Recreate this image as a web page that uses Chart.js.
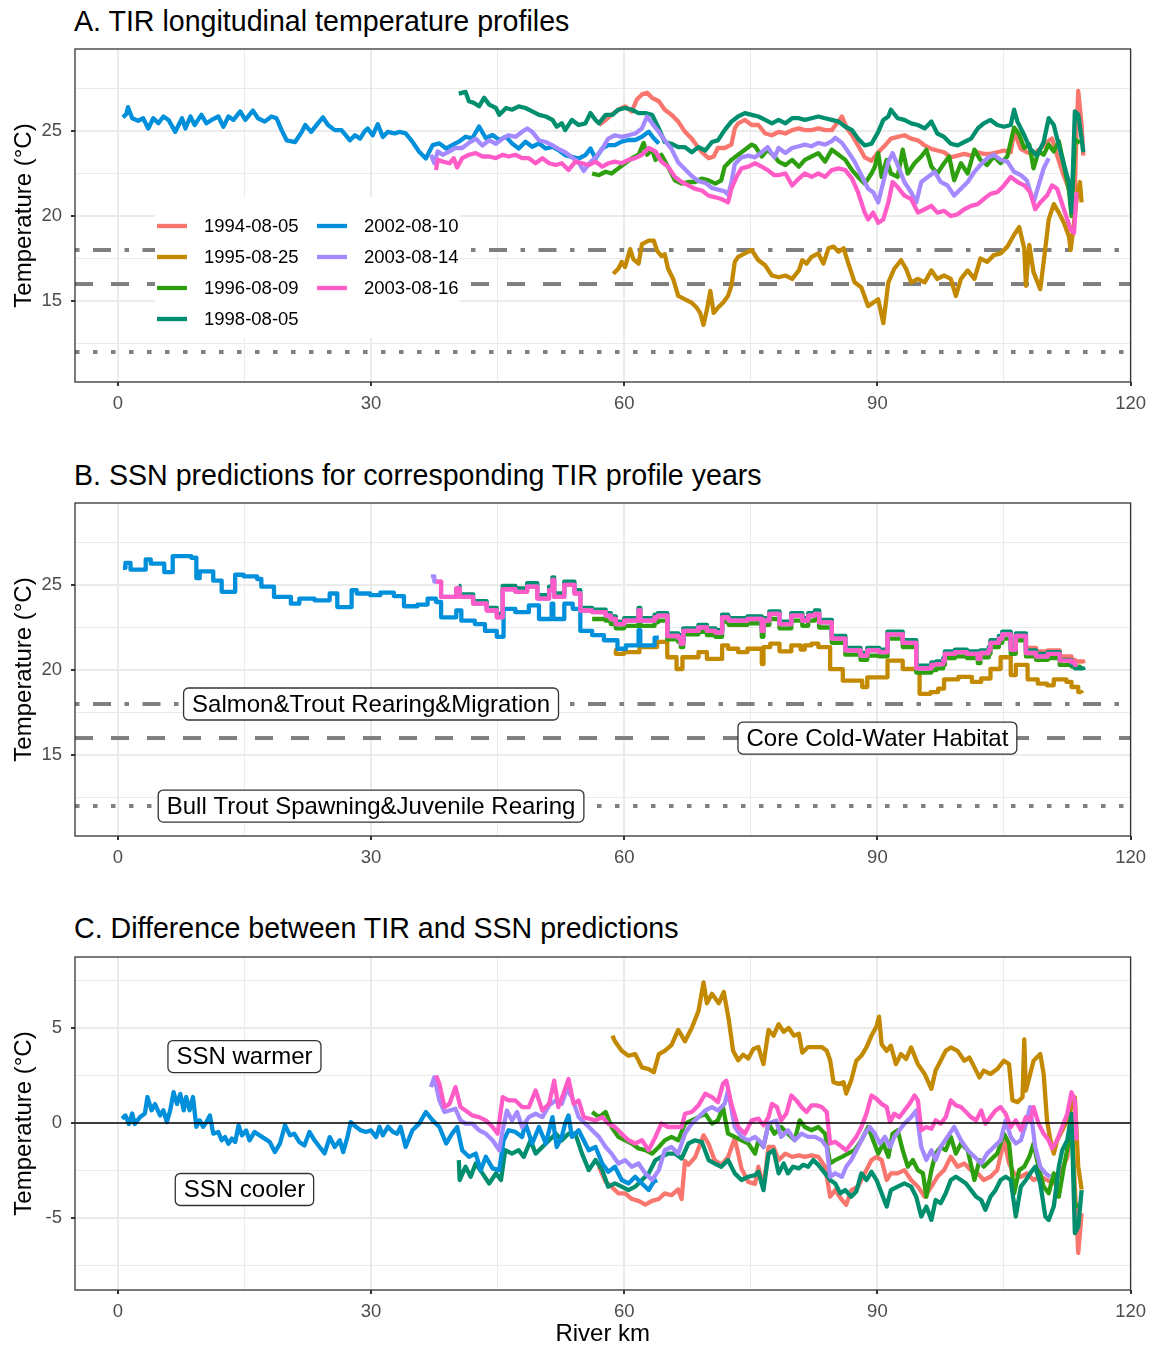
<!DOCTYPE html>
<html>
<head>
<meta charset="utf-8">
<script src="https://cdn.jsdelivr.net/npm/chart.js@4.4.1/dist/chart.umd.min.js"></script>
<style>
  body { margin: 0; background: #fff; font-family: "Liberation Sans", Arial, sans-serif; }
  .title { position: absolute; left: 74px; font-size: 28.6px; line-height: 1; color: #000; white-space: nowrap; }
  .panel { position: absolute; left: 0; width: 1153px; }
</style>
</head>
<body>
<div class="title" style="top:7px">A. TIR longitudinal temperature profiles</div>
<div class="panel" style="top:0;height:420px"><canvas id="chartA"></canvas></div>
<div class="title" style="top:461px">B. SSN predictions for corresponding TIR profile years</div>
<div class="panel" style="top:454px;height:420px"><canvas id="chartB"></canvas></div>
<div class="title" style="top:914px">C. Difference between TIR and SSN predictions</div>
<div class="panel" style="top:908px;height:437px"><canvas id="chartC"></canvas></div>

<script>
// ---- data: [river km, value] ----
const years = ["1994-08-05", "1995-08-25", "1996-08-09", "1998-08-05", "2002-08-10", "2003-08-14", "2003-08-16"];
const xTicks = [0, 30, 60, 90, 120];
const refLevels = [18, 16, 12];

// A. TIR temperatures (°C)
const tir1994 = [[57.0,25.35],[57.8,25.65],[58.5,25.95],[59.3,26.25],[60.1,26.45],[60.9,26.15],[61.5,26.85],[62.1,27.15],[62.7,27.25],[63.3,26.95],[64.1,26.75],[64.8,26.25],[65.6,25.95],[66.4,25.55],[67.2,24.95],[68.0,24.55],[68.6,24.15],[69.2,23.75],[70.0,23.4],[70.6,23.5],[71.1,24.0],[71.9,24.0],[72.7,24.2],[73.1,25.15],[73.5,25.45],[74.3,25.65],[75.1,25.35],[75.9,25.35],[76.7,24.85],[77.5,24.75],[78.3,24.95],[79.1,24.85],[79.9,25.05],[80.7,25.15],[81.4,25.05],[82.2,25.05],[83.0,25.15],[83.8,25.05],[84.6,25.05],[85.2,25.45],[85.8,25.85],[86.4,25.15],[87.0,24.75],[87.7,24.15],[88.5,23.45],[89.3,23.25],[90.1,23.75],[90.9,24.15],[91.6,24.55],[92.4,24.65],[93.2,24.75],[94.0,24.55],[94.8,24.45],[95.6,24.15],[96.4,23.95],[97.1,23.85],[97.9,23.75],[98.7,23.45],[99.5,23.55],[100.3,23.65],[101.1,23.55],[101.9,23.75],[102.6,23.65],[103.4,23.65],[104.2,23.75],[105.0,23.85],[105.8,23.75],[106.2,24.95],[107.0,23.95],[107.7,23.75],[108.5,23.65],[109.3,23.95],[110.1,24.35],[110.7,24.55],[111.3,23.55],[112.1,22.35],[112.9,21.35],[113.4,21.55],[113.6,25.15],[113.8,27.35],[114.2,25.35],[114.4,23.55]];
const tir1995 = [[58.7,16.6],[59.3,16.9],[59.7,17.3],[60.1,17.0],[60.7,18.05],[61.1,17.45],[61.7,17.2],[62.1,18.35],[62.9,18.55],[63.5,18.55],[63.9,17.95],[64.4,17.65],[64.8,17.75],[65.2,16.9],[65.8,16.3],[66.4,15.3],[67.2,15.1],[68.0,14.9],[68.6,14.6],[69.0,14.3],[69.4,13.6],[69.8,14.5],[70.2,15.6],[70.6,14.3],[71.1,14.6],[71.7,14.9],[72.3,15.3],[72.7,15.9],[73.1,17.3],[73.5,17.6],[74.3,17.8],[75.1,18.0],[75.9,17.4],[76.7,17.1],[77.5,16.5],[78.3,16.4],[79.1,16.5],[79.9,16.3],[80.7,16.8],[81.1,17.4],[81.6,17.2],[82.2,17.6],[83.0,17.8],[83.6,17.2],[84.2,18.1],[84.8,18.2],[85.4,17.9],[86.0,18.1],[86.5,17.3],[87.3,16.1],[88.1,15.8],[88.9,14.7],[89.5,14.9],[90.1,15.1],[90.7,13.7],[91.3,16.1],[92.0,16.9],[92.8,17.4],[93.4,16.9],[94.0,16.1],[94.8,16.3],[95.6,16.1],[96.4,16.8],[97.1,16.3],[97.9,16.5],[98.7,16.3],[99.3,15.3],[99.9,16.3],[100.7,16.8],[101.5,16.3],[102.2,17.5],[103.0,17.3],[103.8,17.7],[104.6,17.8],[105.4,18.2],[106.2,18.9],[106.8,19.35],[107.4,18.1],[107.6,15.9],[108.0,18.3],[108.5,16.7],[109.3,15.7],[109.9,18.1],[110.3,19.8],[110.9,20.7],[111.5,20.2],[112.1,19.6],[112.7,18.8],[112.9,18.0],[113.3,19.6],[113.6,21.0],[114.0,22.0],[114.2,20.8]];
const tir1996 = [[56.2,22.5],[57.0,22.4],[57.8,22.6],[58.5,22.5],[59.3,22.8],[60.1,23.1],[60.9,23.4],[61.7,23.6],[62.3,24.3],[62.7,23.6],[63.3,23.9],[63.7,23.3],[64.4,23.6],[65.2,22.9],[66.0,22.1],[66.8,21.9],[67.6,22.0],[68.4,22.0],[69.2,22.2],[70.0,22.1],[70.8,21.9],[71.5,22.1],[71.9,22.9],[72.7,23.3],[73.5,23.6],[74.3,23.9],[75.1,24.2],[75.5,24.1],[76.3,23.5],[77.0,23.9],[77.8,23.5],[78.3,23.2],[79.1,23.0],[79.9,23.3],[80.7,22.9],[81.4,23.3],[82.2,23.5],[83.0,23.7],[83.8,23.2],[84.6,23.9],[85.4,23.6],[86.2,23.3],[87.0,22.7],[87.7,22.3],[88.5,21.9],[89.3,22.5],[89.7,22.9],[90.1,23.7],[90.5,22.3],[91.1,23.3],[91.6,22.5],[92.4,22.3],[93.0,23.9],[93.6,22.5],[94.4,23.1],[95.2,23.5],[95.8,23.9],[96.4,22.9],[97.1,22.5],[97.9,23.1],[98.5,23.5],[99.1,22.1],[99.9,23.1],[100.7,22.5],[101.5,23.9],[102.2,23.3],[103.0,23.0],[103.8,23.5],[104.6,23.1],[105.4,23.5],[106.2,25.2],[106.8,24.8],[107.4,24.0],[108.0,24.2],[108.5,22.8],[109.1,23.8],[109.7,23.6],[110.3,24.2],[110.9,23.8],[111.5,24.4],[112.1,23.0],[112.7,21.5],[113.0,20.0],[113.4,24.5],[114.0,24.3]];
const tir1998 = [[40.4,27.2],[41.2,27.3],[41.6,26.75],[42.2,26.65],[42.8,26.45],[43.4,26.95],[44.0,26.55],[44.8,26.35],[45.2,25.95],[46.0,26.35],[46.7,26.25],[47.5,26.45],[48.3,26.35],[49.1,26.15],[49.9,25.95],[50.7,25.85],[51.5,25.65],[52.0,25.25],[52.6,25.45],[53.0,25.05],[53.8,25.65],[54.6,25.35],[55.4,25.45],[56.0,26.05],[56.6,25.65],[57.0,25.45],[57.8,25.95],[58.6,25.95],[59.3,26.25],[60.1,26.35],[60.9,26.25],[61.7,26.05],[62.5,26.05],[63.3,25.95],[64.1,25.15],[64.8,24.35],[65.6,24.25],[66.4,24.05],[67.2,24.05],[68.0,23.75],[68.8,24.05],[69.6,23.85],[70.4,24.35],[71.1,24.45],[71.9,25.05],[72.7,25.55],[73.5,25.85],[74.3,26.05],[75.1,25.95],[75.9,25.85],[76.7,25.65],[77.5,25.45],[78.3,25.65],[79.1,25.45],[79.9,25.75],[80.7,25.75],[81.4,25.65],[82.2,25.75],[83.0,25.85],[83.8,25.75],[84.6,25.65],[85.4,25.55],[86.2,25.25],[87.0,25.05],[87.7,24.55],[88.5,24.15],[89.3,24.25],[90.1,24.95],[90.7,25.65],[91.3,25.85],[91.6,26.25],[92.4,25.75],[93.2,25.65],[94.0,25.45],[94.8,25.35],[95.6,25.15],[96.4,25.55],[97.1,24.85],[97.9,24.65],[98.7,24.25],[99.5,24.15],[100.3,24.35],[101.1,24.55],[101.9,25.15],[102.6,25.45],[103.4,25.65],[104.2,25.35],[105.0,25.25],[105.8,25.35],[106.2,26.25],[106.6,25.55],[107.4,24.75],[108.1,23.95],[108.9,23.55],[109.7,24.35],[110.3,25.75],[110.9,25.35],[111.5,24.15],[112.1,23.05],[112.7,21.95],[113.0,20.2],[113.4,26.15],[113.8,25.95],[114.2,24.55],[114.4,23.75]];
const tir2002 = [[0.6,25.8],[1.0,26.0],[1.2,26.4],[1.7,25.75],[2.4,25.6],[3.0,25.75],[3.6,25.15],[4.2,25.75],[4.8,25.45],[5.4,25.85],[6.0,25.65],[6.8,24.95],[7.6,25.75],[8.0,25.15],[8.6,25.85],[9.1,25.35],[9.9,25.95],[10.5,25.45],[11.1,25.65],[11.9,25.85],[12.5,25.25],[13.1,25.85],[13.7,25.65],[14.5,26.15],[15.1,25.65],[16.0,26.2],[16.6,25.75],[17.4,25.55],[18.2,25.85],[18.8,25.75],[19.4,25.05],[20.0,24.45],[21.0,24.35],[21.8,24.95],[22.2,25.35],[22.9,24.95],[23.7,25.45],[24.3,25.8],[24.9,25.35],[25.7,25.05],[26.5,25.05],[27.5,24.45],[28.1,24.75],[28.7,24.55],[29.2,24.95],[29.6,25.15],[30.2,24.75],[30.8,25.4],[31.4,24.65],[32.0,24.95],[32.8,24.85],[33.4,24.95],[34.1,24.86],[34.9,24.37],[35.7,23.78],[36.5,23.38],[37.3,24.17],[38.1,24.27],[38.9,23.97],[39.6,24.17],[40.4,24.37],[41.2,24.66],[42.0,24.57],[42.8,25.26],[43.6,24.57],[44.4,24.76],[45.2,24.47],[46.0,24.66],[46.7,24.27],[47.5,23.97],[48.3,24.37],[49.1,24.07],[49.9,24.27],[50.7,23.97],[51.5,24.07],[52.2,23.88],[53.0,23.58],[53.8,23.48],[54.6,23.38],[55.4,23.58],[56.0,23.97],[56.6,23.38],[57.4,23.97],[58.1,24.17],[58.9,24.17],[59.7,24.37],[60.5,24.47],[61.3,24.47],[62.1,24.66],[62.9,24.96],[63.5,24.57],[64.1,24.27]];
const tir2003a = [[37.1,23.6],[37.5,23.1],[37.9,23.8],[38.5,23.6],[39.3,23.8],[40.0,24.0],[40.8,24.0],[41.6,24.3],[42.4,24.55],[43.2,24.15],[44.0,24.45],[44.8,24.25],[45.6,24.55],[46.3,24.75],[47.1,24.65],[47.9,24.95],[48.5,25.15],[49.1,24.95],[49.9,24.45],[50.7,24.35],[51.5,24.15],[52.2,23.95],[53.0,23.75],[53.8,23.45],[54.6,23.15],[55.2,22.65],[55.8,23.05],[56.6,23.45],[57.4,23.95],[58.1,24.55],[58.9,24.75],[59.7,24.65],[60.5,24.75],[61.3,24.85],[62.1,25.15],[62.7,25.85],[63.3,25.45],[64.1,24.95],[64.8,24.45],[65.6,23.95],[66.4,23.15],[67.2,22.75],[68.0,22.35],[68.8,22.05],[69.6,21.95],[70.4,21.65],[71.1,21.55],[71.9,21.45],[72.3,21.25],[72.7,21.95],[73.1,23.05],[73.9,23.45],[74.7,23.55],[75.5,23.45],[76.3,23.75],[77.0,24.05],[77.8,23.45],[78.3,24.0],[79.1,23.7],[79.9,24.0],[80.7,24.1],[81.4,24.2],[82.2,24.1],[83.0,24.3],[83.8,24.2],[84.6,24.4],[85.0,24.6],[85.8,24.3],[86.5,23.8],[87.3,23.2],[88.1,22.4],[88.9,21.6],[89.5,21.4],[90.1,20.8],[90.7,22.0],[91.3,23.2],[91.8,23.7],[92.4,23.0],[93.2,22.0],[94.0,21.4],[94.6,20.8],[95.2,22.0],[96.0,22.3],[96.8,22.6],[97.5,22.0],[98.3,21.8],[99.1,21.2],[99.9,21.6],[100.7,22.0],[101.5,22.6],[102.2,23.0],[103.0,23.4],[103.8,23.6],[104.6,23.3],[105.4,23.2],[106.2,22.6],[107.0,22.4],[107.7,22.1],[108.5,20.8],[109.1,21.8],[109.7,22.8],[110.3,23.4]];
const tir2003b = [[37.7,22.7],[37.9,23.3],[38.5,23.2],[39.3,23.1],[39.8,23.4],[40.2,22.85],[40.8,23.4],[41.6,23.6],[42.4,23.7],[43.2,23.5],[44.0,23.5],[44.8,23.4],[45.6,23.6],[46.3,23.5],[47.1,23.6],[47.9,23.4],[48.7,23.4],[49.5,23.1],[50.3,23.4],[51.1,23.1],[51.9,23.0],[52.6,23.1],[53.4,22.7],[54.2,23.2],[55.0,23.1],[55.8,23.0],[56.6,23.2],[57.4,22.9],[58.1,23.1],[58.9,23.2],[59.7,23.1],[60.5,23.3],[61.3,23.4],[62.1,23.6],[62.9,24.0],[63.7,23.8],[64.4,23.2],[65.2,22.9],[66.0,22.3],[66.8,22.0],[67.6,21.8],[68.4,21.6],[69.2,21.5],[70.0,21.2],[70.8,21.1],[71.5,21.0],[72.3,20.8],[72.7,21.6],[73.3,22.3],[73.9,22.8],[74.7,22.9],[75.5,23.1],[76.3,22.9],[77.0,22.7],[77.8,22.4],[78.3,22.4],[79.1,22.5],[79.9,21.8],[80.7,22.2],[81.4,22.5],[82.2,22.3],[83.0,22.5],[83.8,22.3],[84.6,22.7],[85.4,22.8],[86.2,22.7],[87.0,22.2],[87.7,21.4],[88.5,20.2],[88.9,19.8],[89.5,20.2],[90.1,19.6],[90.7,19.8],[91.3,20.8],[91.8,22.0],[92.4,21.7],[93.2,21.2],[94.0,21.0],[94.8,20.2],[95.6,20.4],[96.4,20.6],[97.1,20.2],[97.9,20.3],[98.7,20.0],[99.5,20.1],[100.3,20.4],[101.1,20.6],[101.9,20.7],[102.6,21.0],[103.4,21.3],[104.2,21.4],[105.0,21.8],[105.8,22.3],[106.6,22.0],[107.4,21.8],[108.1,21.4],[108.7,20.4],[109.3,20.8],[110.1,21.2],[110.7,21.8],[111.3,21.6],[112.1,20.4],[112.9,19.2],[113.3,19.0],[113.6,21.4]];

// B. SSN predictions (°C), each value holds until the next km
const ssn1994 = [[57.0,23.4],[57.8,23.3],[58.4,23.1],[59.0,22.8],[60.0,23.0],[61.7,23.6],[61.9,23.0],[63.6,23.2],[64.0,23.3],[65.1,22.1],[66.4,22.0],[66.7,21.65],[67.0,22.4],[68.8,22.6],[69.8,22.4],[70.8,22.3],[71.6,23.2],[72.3,23.1],[72.4,23.0],[74.6,23.1],[76.3,22.4],[76.5,23.0],[77.2,23.4],[78.4,22.8],[79.8,23.3],[81.1,23.0],[81.8,23.3],[82.6,23.4],[83.1,22.9],[84.6,21.95],[86.2,21.25],[88.0,20.95],[88.8,21.25],[90.2,21.15],[91.2,22.2],[93.0,21.7],[94.6,20.2],[96.4,20.4],[97.0,20.45],[97.8,20.65],[98.0,21.05],[99.2,21.15],[100.6,21.05],[101.9,20.75],[102.2,21.1],[103.2,21.3],[103.4,21.7],[104.4,21.95],[104.8,22.2],[105.8,21.3],[106.4,22.1],[107.6,21.3],[108.8,21.1],[110.2,21.15],[111.6,20.8],[113.0,20.6],[113.4,20.5],[114.4,20.4]];
const ssn1995 = [[58.8,21.15],[59.0,20.95],[60.0,21.05],[61.8,21.35],[63.9,21.65],[65.1,20.75],[66.2,20.06],[66.9,20.75],[68.8,21.05],[69.8,20.65],[71.6,21.45],[72.3,21.25],[73.5,21.05],[74.6,21.25],[76.3,20.35],[76.5,21.35],[77.3,21.55],[78.4,21.1],[79.8,21.45],[80.9,21.2],[81.4,21.45],[82.2,21.55],[83.0,21.35],[84.4,20.05],[85.9,19.37],[88.2,19.0],[88.8,19.57],[91.2,20.55],[93.0,20.06],[95.0,18.6],[96.3,18.7],[97.2,18.9],[97.9,19.45],[99.6,19.6],[101.2,19.3],[102.3,19.5],[103.4,20.06],[104.6,20.75],[105.8,19.7],[106.4,20.3],[107.8,19.45],[109.0,19.2],[110.1,19.1],[110.9,19.45],[112.4,19.3],[113.0,19.0],[113.8,18.7],[114.2,18.65]];
const ssn1996 = [[56.2,23.0],[57.8,22.9],[58.4,22.7],[59.0,22.45],[60.0,22.6],[61.7,23.2],[61.9,22.6],[63.6,22.8],[64.0,22.9],[65.1,21.8],[66.4,21.65],[66.7,21.35],[67.0,22.1],[68.8,22.25],[69.8,22.05],[70.8,21.95],[71.6,22.85],[72.3,22.75],[72.4,22.65],[74.6,22.75],[76.3,21.95],[76.5,22.65],[77.2,23.0],[78.4,22.45],[79.8,22.9],[81.1,22.6],[81.8,22.9],[82.6,23.0],[83.1,22.5],[84.6,21.6],[86.2,20.9],[88.0,20.6],[88.8,20.85],[90.2,20.8],[91.2,21.85],[93.0,21.35],[94.6,19.85],[96.4,20.0],[97.0,20.1],[97.8,20.3],[98.0,20.7],[99.2,20.8],[100.6,20.7],[101.9,20.4],[102.2,20.75],[103.2,20.95],[103.4,21.35],[104.4,21.6],[104.8,21.85],[105.8,20.95],[106.4,21.75],[107.6,20.8],[108.8,20.6],[110.2,20.7],[111.6,20.3],[113.0,20.2],[114.0,20.0]];
const ssn1998 = [[40.4,24.95],[40.5,24.45],[42.1,24.05],[43.7,23.65],[44.9,23.3],[45.6,24.95],[47.1,24.8],[48.5,25.1],[49.7,24.4],[51.1,24.9],[51.5,25.45],[51.7,24.5],[52.9,25.2],[54.1,24.7],[54.8,23.65],[56.2,23.55],[57.8,23.35],[58.4,23.15],[59.0,22.85],[60.0,23.05],[61.7,23.65],[61.9,23.05],[63.6,23.25],[64.0,23.35],[65.1,22.15],[66.4,22.05],[66.7,21.7],[67.0,22.45],[68.8,22.65],[69.8,22.45],[70.8,22.35],[71.6,23.25],[72.3,23.15],[72.4,23.05],[74.6,23.15],[76.3,22.45],[76.5,23.05],[77.2,23.45],[78.4,22.85],[79.8,23.35],[81.1,23.05],[81.8,23.35],[82.6,23.5],[83.1,22.95],[84.6,22.0],[86.2,21.3],[88.0,21.0],[88.8,21.3],[90.2,21.2],[91.2,22.25],[93.0,21.75],[94.6,20.25],[96.4,20.45],[97.0,20.5],[97.8,20.7],[98.0,21.1],[99.2,21.2],[100.6,21.1],[101.9,20.8],[102.2,21.15],[103.2,21.35],[103.4,21.75],[104.4,22.0],[104.8,22.25],[105.8,21.35],[106.4,22.15],[107.6,21.15],[108.8,20.95],[110.2,21.05],[111.6,20.6],[113.0,20.3],[113.4,20.1],[114.4,20.0]];
const ssn2002 = [[0.6,26.0],[0.9,26.3],[1.5,25.9],[3.3,26.5],[3.9,26.25],[5.5,25.75],[6.5,26.7],[8.7,26.6],[9.3,25.4],[9.7,25.8],[11.3,25.25],[12.3,24.6],[13.9,25.6],[14.9,25.5],[16.5,25.35],[17.0,24.9],[18.5,24.3],[20.5,23.9],[21.5,24.2],[23.3,24.1],[25.1,24.5],[26.0,23.7],[27.7,24.7],[28.3,24.5],[29.9,24.4],[31.1,24.55],[32.7,24.35],[33.9,23.75],[35.5,23.85],[36.7,24.2],[37.7,24.0],[38.3,23.1],[40.1,23.5],[40.7,22.9],[42.3,22.7],[43.5,22.3],[44.9,21.95],[45.7,23.6],[47.1,23.4],[48.7,23.8],[49.9,23.0],[51.4,23.9],[51.6,23.0],[52.9,23.9],[53.9,23.6],[54.8,22.3],[56.2,22.05],[57.6,21.75],[59.2,21.25],[60.2,21.45],[61.7,22.35],[61.9,21.45],[63.6,21.9],[64.1,21.9]];
const ssn2003a = [[37.1,25.5],[37.5,25.2],[38.3,24.3],[40.1,24.8],[40.5,24.3],[42.1,23.9],[43.7,23.5],[44.9,23.1],[45.6,24.75],[47.1,24.6],[48.5,24.9],[49.7,24.2],[51.1,24.7],[51.5,25.3],[51.7,24.3],[52.9,25.0],[54.1,24.5],[54.8,23.5],[56.2,23.4],[57.8,23.2],[58.4,23.0],[59.0,22.7],[60.0,22.9],[61.7,23.5],[61.9,22.9],[63.6,23.1],[64.0,23.2],[65.1,22.0],[66.4,21.9],[66.7,21.55],[67.0,22.3],[68.8,22.5],[69.8,22.3],[70.8,22.2],[71.6,23.1],[72.3,23.0],[72.4,22.9],[74.6,23.0],[76.3,22.3],[76.5,22.9],[77.2,23.3],[78.4,22.7],[79.8,23.2],[81.1,22.9],[81.8,23.2],[82.6,23.3],[83.1,22.8],[84.6,21.85],[86.2,21.15],[88.0,20.85],[88.8,21.15],[90.2,21.05],[91.2,22.1],[93.0,21.6],[94.6,20.1],[96.4,20.3],[97.0,20.35],[97.8,20.55],[98.0,20.95],[99.2,21.05],[100.6,20.95],[101.9,20.65],[102.2,21.0],[103.2,21.2],[103.4,21.6],[104.4,21.85],[104.8,22.1],[105.8,21.2],[106.4,22.0],[107.6,21.0],[108.8,20.8],[110.2,20.95],[110.4,20.95]];
const ssn2003b = [[37.7,25.2],[38.3,24.3],[40.1,24.8],[40.5,24.3],[42.1,23.9],[43.7,23.5],[44.9,23.1],[45.6,24.75],[47.1,24.6],[48.5,24.9],[49.7,24.2],[51.1,24.7],[51.5,25.3],[51.7,24.3],[52.9,25.0],[54.1,24.5],[54.8,23.5],[56.2,23.4],[57.8,23.2],[58.4,23.0],[59.0,22.7],[60.0,22.9],[61.7,23.5],[61.9,22.9],[63.6,23.1],[64.0,23.2],[65.1,22.0],[66.4,21.9],[66.7,21.55],[67.0,22.3],[68.8,22.5],[69.8,22.3],[70.8,22.2],[71.6,23.1],[72.3,23.0],[72.4,22.9],[74.6,23.0],[76.3,22.3],[76.5,22.9],[77.2,23.3],[78.4,22.7],[79.8,23.2],[81.1,22.9],[81.8,23.2],[82.6,23.3],[83.1,22.8],[84.6,21.85],[86.2,21.15],[88.0,20.85],[88.8,21.15],[90.2,21.05],[91.2,22.1],[93.0,21.6],[94.6,20.1],[96.4,20.3],[97.0,20.35],[97.8,20.55],[98.0,20.95],[99.2,21.05],[100.6,20.95],[101.9,20.65],[102.2,21.0],[103.2,21.2],[103.4,21.6],[104.4,21.85],[104.8,22.1],[105.8,21.2],[106.4,22.0],[107.6,21.0],[108.8,20.8],[110.2,20.95],[111.6,20.55],[113.0,20.45],[113.4,20.3],[113.7,20.3]];

// C. SSN minus TIR (°C)
const diff1994 = [[57.0,-2.3],[57.8,-3.1],[58.5,-3.35],[59.3,-3.7],[60.1,-3.7],[60.9,-4.0],[61.7,-4.1],[62.5,-4.3],[63.3,-4.1],[64.1,-4.0],[64.8,-3.7],[65.6,-3.8],[66.4,-3.5],[66.8,-4.0],[67.2,-2.0],[67.6,-2.2],[68.4,-1.8],[69.4,-0.65],[70.0,-1.1],[70.7,-1.95],[71.5,-2.2],[72.3,-1.8],[73.1,-0.8],[73.9,-2.4],[74.7,-3.1],[75.5,-3.2],[75.9,-2.3],[76.5,-3.35],[77.1,-1.26],[77.7,-1.26],[78.3,-1.95],[79.1,-1.61],[79.9,-1.78],[80.7,-1.7],[81.4,-1.78],[82.2,-1.7],[83.0,-1.78],[83.8,-2.3],[84.4,-3.88],[85.0,-3.53],[85.8,-4.05],[86.3,-4.31],[86.9,-3.53],[87.7,-3.35],[88.5,-2.65],[89.3,-1.95],[89.9,-1.78],[90.5,-1.95],[91.1,-3.0],[91.6,-2.65],[92.4,-2.65],[93.2,-2.48],[94.0,-3.0],[94.8,-3.35],[95.6,-3.88],[96.4,-3.35],[97.1,-2.83],[97.9,-2.48],[98.7,-1.78],[99.5,-2.3],[100.3,-2.13],[101.1,-2.48],[101.9,-2.65],[102.6,-3.0],[103.4,-2.83],[104.2,-2.48],[105.0,-0.91],[105.6,-2.13],[106.2,-2.65],[107.0,-2.83],[107.7,-2.65],[108.5,-3.0],[109.3,-2.83],[110.1,-3.0],[110.9,-3.18],[111.7,-2.65],[112.5,-1.78],[113.0,0.31],[113.4,-3.35],[113.8,-6.84],[114.2,-4.75]];
const diff1995 = [[58.6,4.6],[58.9,4.3],[59.7,3.8],[60.5,3.54],[61.3,3.63],[62.1,2.93],[62.9,2.84],[63.5,2.67],[64.1,3.63],[64.8,3.8],[65.6,4.1],[66.4,4.9],[67.2,4.3],[68.0,5.0],[68.8,5.9],[69.4,7.4],[69.8,6.3],[70.4,6.8],[71.2,6.3],[71.8,6.9],[72.4,5.4],[72.9,3.8],[73.5,3.3],[74.1,3.6],[74.7,3.4],[75.3,3.9],[75.9,4.0],[76.5,3.1],[77.1,4.9],[77.7,4.6],[78.3,5.2],[78.9,4.8],[79.5,5.0],[80.1,4.6],[80.7,4.7],[81.1,3.7],[81.8,4.0],[82.6,4.0],[83.4,4.0],[84.0,3.8],[84.4,3.3],[84.8,2.15],[85.4,2.06],[86.0,2.15],[86.3,1.55],[86.9,2.25],[87.5,3.28],[88.1,3.54],[88.7,3.98],[89.3,4.6],[89.9,5.1],[90.2,5.6],[90.5,4.15],[91.1,3.8],[91.6,4.07],[92.2,3.1],[92.8,3.63],[93.4,3.37],[94.0,3.98],[94.8,3.1],[95.6,2.58],[96.4,1.8],[96.9,2.76],[97.5,3.28],[98.1,3.8],[98.7,3.98],[99.5,3.8],[100.3,3.28],[100.9,3.45],[101.5,2.93],[102.1,2.4],[102.6,2.76],[103.4,2.58],[104.2,2.84],[105.0,3.28],[105.6,3.1],[106.0,1.2],[106.6,1.1],[107.2,1.36],[107.4,4.4],[107.6,1.71],[108.0,2.4],[108.5,3.28],[109.3,3.63],[109.7,2.58],[110.1,0.14],[110.5,-0.91],[110.9,-1.61],[111.3,-0.91],[111.9,-0.38],[112.5,0.14],[113.0,0.84],[113.4,1.36],[113.8,-2.3],[114.2,-3.5]];
const diff1996 = [[56.2,0.58],[57.0,0.31],[57.8,0.58],[58.5,-0.21],[59.3,-0.73],[60.1,-0.91],[60.9,-1.08],[61.7,-1.34],[62.5,-1.43],[63.3,-1.61],[64.1,-1.26],[64.8,-0.91],[65.6,-0.73],[66.4,-0.91],[67.2,-0.03],[68.0,0.14],[68.8,0.31],[69.6,0.49],[70.4,-0.03],[71.1,0.14],[71.7,0.84],[72.3,-0.56],[73.1,-0.73],[73.9,-0.91],[74.7,-1.08],[75.5,-1.61],[75.9,-0.91],[76.5,-1.26],[77.1,-0.03],[77.8,-0.56],[78.6,-0.21],[79.4,-0.56],[80.2,-0.91],[80.8,0.14],[81.4,-0.21],[82.2,-0.38],[83.0,-0.21],[83.8,-0.56],[84.4,-2.13],[85.0,-1.95],[85.8,-1.78],[86.5,-1.61],[87.3,-1.43],[88.1,-0.91],[88.9,-0.21],[89.5,-0.91],[90.1,-1.61],[90.7,-1.08],[91.3,-1.78],[91.8,-0.56],[92.4,-0.38],[93.0,-1.43],[93.6,-2.3],[94.2,-1.95],[94.8,-2.48],[95.4,-2.65],[95.8,-3.88],[96.4,-2.48],[96.9,-1.61],[97.5,-1.26],[98.1,-1.43],[98.7,-0.73],[99.3,-1.61],[99.9,-1.08],[100.7,-1.43],[101.5,-3.0],[102.1,-1.95],[102.6,-2.3],[103.4,-1.95],[104.2,-1.61],[105.0,-0.56],[105.6,-1.08],[106.2,-3.7],[106.8,-2.48],[107.4,-2.3],[108.0,-1.78],[108.5,-1.08],[109.1,-2.3],[109.7,-3.35],[110.3,-3.7],[110.9,-2.65],[111.5,-3.88],[112.1,-2.3],[112.7,-0.91],[113.0,0.49],[113.4,-4.4],[114.0,-4.3]];
const diff1998 = [[40.4,-1.95],[40.5,-3.0],[41.2,-2.3],[41.8,-2.83],[42.4,-2.13],[43.2,-2.65],[44.0,-3.18],[44.8,-2.65],[45.4,-3.0],[45.9,-1.43],[46.7,-1.61],[47.5,-1.43],[48.1,-1.78],[48.9,-0.91],[49.5,-1.61],[50.3,-1.26],[51.1,-0.91],[51.9,-0.56],[52.6,-0.91],[53.4,-0.56],[54.2,-0.56],[55.0,-1.61],[55.8,-2.48],[56.6,-1.95],[57.4,-2.48],[58.1,-3.35],[58.9,-3.18],[59.7,-3.35],[60.5,-3.53],[61.3,-3.35],[62.1,-3.0],[62.9,-2.65],[63.7,-1.95],[64.4,-1.78],[65.2,-1.61],[66.0,-1.61],[66.8,-1.87],[67.6,-1.08],[68.4,-0.91],[69.2,-1.0],[70.0,-1.95],[70.7,-2.13],[71.5,-2.3],[72.3,-1.95],[73.1,-2.65],[73.9,-3.0],[74.7,-2.83],[75.5,-2.74],[75.9,-2.57],[76.5,-3.53],[77.1,-1.61],[77.7,-1.43],[78.3,-2.65],[78.9,-2.13],[79.4,-2.65],[80.0,-2.3],[80.7,-2.39],[81.2,-2.2],[81.8,-2.3],[82.4,-1.95],[83.0,-2.2],[83.8,-2.65],[84.4,-3.0],[85.0,-3.18],[85.6,-3.7],[86.2,-3.53],[86.9,-3.88],[87.5,-3.61],[88.1,-2.65],[88.7,-3.0],[89.3,-2.57],[89.9,-3.0],[90.5,-3.7],[91.1,-4.4],[91.6,-3.53],[92.4,-3.35],[93.2,-3.18],[94.0,-3.35],[94.6,-3.88],[95.2,-4.92],[95.8,-4.4],[96.4,-5.1],[96.9,-4.05],[97.5,-4.22],[98.1,-3.7],[98.7,-3.0],[99.3,-2.83],[99.9,-3.0],[100.5,-3.18],[101.1,-3.53],[101.7,-3.88],[102.3,-4.05],[102.8,-4.57],[103.4,-3.88],[104.0,-3.53],[104.6,-3.0],[105.2,-2.83],[105.8,-3.0],[106.4,-4.92],[107.0,-3.35],[107.6,-3.0],[108.1,-2.65],[108.7,-2.3],[109.3,-3.18],[109.9,-4.92],[110.3,-5.1],[110.9,-4.4],[111.5,-2.3],[111.9,-1.43],[112.5,-0.91],[113.0,0.49],[113.4,-5.8],[113.8,-5.45],[114.2,-3.53]];
const diff2002 = [[0.5,0.23],[0.9,0.4],[1.3,-0.05],[1.7,0.5],[2.0,-0.05],[2.6,0.3],[3.2,0.5],[3.5,1.37],[4.0,0.67],[4.4,1.0],[5.0,0.4],[5.4,0.67],[5.8,0.05],[6.2,0.67],[6.6,1.63],[7.0,1.0],[7.4,1.53],[7.8,0.67],[8.1,1.37],[8.5,0.67],[8.9,1.37],[9.3,-0.2],[9.7,0.14],[10.1,-0.2],[10.5,0.05],[10.9,0.4],[11.3,-0.56],[11.9,-0.47],[12.3,-0.91],[12.7,-0.74],[13.1,-1.09],[13.5,-0.82],[13.9,-1.0],[14.3,-0.12],[14.7,-0.65],[15.2,-0.39],[15.6,-0.91],[16.2,-0.47],[16.8,-0.65],[17.4,-0.82],[18.0,-1.0],[18.6,-1.53],[19.2,-1.09],[19.8,-0.12],[20.4,-0.65],[20.9,-0.56],[21.5,-1.0],[22.1,-1.18],[22.7,-0.47],[23.3,-0.91],[23.9,-1.26],[24.5,-1.6],[25.1,-0.74],[25.7,-1.26],[26.3,-0.91],[26.7,-1.53],[27.2,-0.74],[27.6,0.05],[28.2,-0.2],[28.8,-0.39],[29.4,-0.47],[30.0,-0.39],[30.6,-0.74],[31.0,-0.2],[31.4,-0.65],[32.0,-0.2],[32.6,-0.47],[33.1,-0.56],[33.5,-0.2],[34.1,-1.26],[34.9,-0.38],[35.7,-0.03],[36.5,0.58],[37.3,0.14],[38.1,-0.21],[38.9,-1.08],[39.6,-0.56],[40.2,-0.21],[40.8,-1.43],[41.6,-1.78],[42.4,-1.61],[43.0,-2.48],[43.6,-1.78],[44.4,-2.39],[45.2,-2.48],[45.7,-0.91],[46.3,-0.38],[47.1,-0.47],[47.9,-0.73],[48.3,-0.03],[49.1,-1.08],[49.9,-0.21],[50.7,-1.08],[51.5,0.31],[52.0,-1.26],[52.6,-0.73],[53.0,-0.03],[53.4,0.4],[53.8,-0.73],[54.6,-0.38],[55.2,-0.91],[55.8,-1.43],[56.6,-1.26],[57.4,-2.13],[58.1,-2.57],[58.9,-2.3],[59.7,-3.0],[60.5,-3.18],[61.3,-2.83],[62.1,-3.18],[62.9,-3.53],[63.5,-3.09],[63.9,-3.0]];
const diff2003a = [[37.1,1.89],[37.5,2.41],[38.1,1.19],[38.7,0.58],[39.3,0.66],[40.0,0.75],[40.6,0.14],[41.2,-0.03],[42.0,-0.03],[42.8,-0.38],[43.6,-0.56],[44.4,-0.91],[45.2,-1.43],[45.6,-0.38],[46.1,0.66],[46.7,0.14],[47.3,0.58],[47.9,-0.21],[48.7,0.31],[49.5,0.49],[50.3,0.31],[51.1,0.93],[51.9,1.19],[52.6,1.01],[53.2,1.8],[53.8,1.36],[54.6,0.31],[55.4,-0.03],[56.2,-0.38],[57.0,-0.73],[57.8,-1.26],[58.5,-1.61],[59.3,-2.13],[60.1,-1.95],[60.9,-2.3],[61.7,-2.13],[62.5,-2.65],[63.3,-3.0],[64.1,-2.48],[64.8,-1.43],[65.6,-1.26],[66.4,-1.61],[67.2,-0.56],[68.0,-0.03],[68.8,0.31],[69.6,0.66],[70.4,0.84],[71.1,0.66],[71.9,1.01],[72.3,1.71],[73.1,-0.21],[73.9,-0.73],[74.7,-0.91],[75.5,-0.73],[76.3,-1.08],[76.5,-1.26],[77.1,-0.03],[78.0,0.14],[78.6,-0.73],[79.4,-0.38],[80.2,-0.91],[81.0,-0.56],[81.8,-0.73],[82.6,-0.73],[83.4,-0.91],[84.0,-1.26],[84.4,-2.83],[85.0,-2.65],[85.8,-2.83],[86.3,-2.3],[86.9,-1.95],[87.7,-1.26],[88.5,-0.56],[89.1,-0.21],[89.7,-0.56],[90.3,-1.08],[90.9,-0.73],[91.5,-1.26],[92.0,-0.73],[92.6,-0.38],[93.2,-0.03],[94.0,0.31],[94.6,0.66],[95.2,-1.26],[95.8,-1.95],[96.4,-1.43],[96.9,-1.95],[97.5,-1.26],[98.3,-0.73],[99.1,-0.21],[99.9,-0.91],[100.7,-1.43],[101.5,-1.78],[102.3,-2.13],[103.0,-1.61],[103.8,-1.26],[104.6,-0.91],[105.2,0.14],[105.8,-0.73],[106.4,-1.08],[107.0,-0.91],[107.6,-0.03],[108.1,0.84],[108.7,-1.26],[109.3,-2.3],[109.9,-2.65],[110.5,-2.83]];
const diff2003b = [[37.7,2.5],[38.1,2.06],[38.7,0.84],[39.3,1.01],[40.0,1.89],[40.6,0.84],[41.2,0.66],[42.0,0.4],[42.8,0.31],[43.6,0.14],[44.4,-0.21],[45.0,-0.56],[45.6,1.36],[46.3,1.19],[47.1,1.19],[47.9,0.84],[48.7,0.84],[49.5,1.71],[50.3,0.66],[51.1,1.01],[51.7,2.23],[52.2,0.84],[52.8,1.54],[53.4,2.32],[54.0,1.01],[54.6,1.19],[55.2,0.31],[55.8,0.23],[56.6,0.14],[57.4,0.31],[58.1,-0.03],[58.9,-0.21],[59.7,-0.56],[60.5,-0.91],[61.3,-1.08],[62.1,-0.91],[62.9,-1.43],[63.7,-0.73],[64.4,-0.03],[65.2,-0.21],[66.0,-0.21],[66.8,-0.21],[67.2,0.49],[68.0,0.58],[68.8,0.93],[69.6,1.54],[70.4,1.36],[71.1,1.1],[71.7,2.06],[72.1,2.23],[72.7,1.01],[73.5,-0.21],[74.3,-0.56],[75.1,0.14],[75.9,0.23],[76.5,-0.12],[77.1,0.31],[77.5,1.01],[78.1,0.84],[78.6,0.14],[79.2,0.49],[79.8,1.45],[80.4,1.19],[81.0,0.84],[81.6,0.58],[82.2,0.93],[82.8,0.93],[83.4,0.84],[84.0,0.58],[84.4,-1.08],[85.0,-0.99],[85.8,-1.26],[86.3,-1.43],[86.9,-1.08],[87.5,-0.73],[88.1,-0.21],[88.7,0.49],[89.3,1.45],[89.9,1.27],[90.5,1.01],[91.1,0.84],[91.5,0.05],[92.0,0.49],[92.6,0.31],[93.2,0.66],[93.8,1.01],[94.4,1.45],[94.8,1.19],[95.2,-0.38],[95.8,-0.21],[96.4,-0.3],[96.9,0.14],[97.5,-0.03],[98.1,0.31],[98.7,1.19],[99.3,0.93],[99.9,0.84],[100.5,0.58],[101.1,0.31],[101.7,0.14],[102.3,0.66],[102.8,-0.03],[103.4,0.31],[104.0,0.66],[104.6,0.84],[105.2,0.49],[105.8,-0.21],[106.4,0.14],[107.0,-0.38],[107.6,0.31],[108.1,0.14],[108.5,0.84],[109.1,-0.03],[109.7,-0.56],[110.3,-0.91],[110.7,-1.34],[111.3,-0.91],[111.9,-0.21],[112.5,0.49],[113.0,1.62],[113.4,1.19],[113.6,-0.91]];

// ---- styling ----
const colors = ["#F8766D", "#C38900", "#2EA00F", "#008F6E", "#0090DB", "#A58AFF", "#FF5CC8"];
const FONT = '"Liberation Sans", Arial, sans-serif';
const X_MIN = -5.08, X_MAX = 120;
const LINE_W = 4.3;
Chart.defaults.font.family = FONT;
Chart.defaults.animation = false;

const pts = (arr) => arr.map(([x, y]) => ({ x, y }));

const seriesSets = (list, stepped) =>
  list.map((arr, i) => ({
    label: years[i],
    data: pts(arr),
    borderColor: colors[i],
    borderWidth: LINE_W,
    borderJoinStyle: "round",
    pointRadius: 0,
    stepped: stepped,
    tension: 0,
    fill: false,
    order: 7 - i,
  }));

const refSets = () => [
  [4.5, 13.5, 18, 13.5],
  [18, 18],
  [4.5, 13.5],
].map((dash, i) => ({
  data: [{ x: X_MIN, y: refLevels[i] }, { x: X_MAX, y: refLevels[i] }],
  borderColor: "#7F7F7F",
  borderWidth: 4,
  borderDash: dash,
  pointRadius: 0,
  order: 20,
}));

const isMajor = (v, step) => Math.abs(v / step - Math.round(v / step)) < 1e-6;

const makeScales = (yMin, yMax, bottomH, xTitle) => ({
  x: {
    type: "linear",
    min: X_MIN,
    max: X_MAX,
    afterFit: (s) => { s.height = bottomH; },
    border: { display: false },
    grid: {
      color: "#EBEBEB",
      lineWidth: (c) => (isMajor(c.tick.value, 30) ? 2 : 1),
      tickLength: 4,
      tickColor: (c) => (isMajor(c.tick.value, 30) ? "#333333" : "rgba(0,0,0,0)"),
    },
    ticks: {
      stepSize: 15,
      includeBounds: false,
      autoSkip: false,
      maxRotation: 0,
      padding: 7,
      color: "#4D4D4D",
      font: { size: 18.5 },
      callback: (v) => (xTicks.includes(v) ? String(v) : ""),
    },
    title: {
      display: !!xTitle,
      text: xTitle || "",
      color: "#000",
      font: { size: 24, lineHeight: 1 },
      padding: { top: 0, bottom: -1 },
    },
  },
  y: {
    type: "linear",
    min: yMin,
    max: yMax,
    afterFit: (s) => { s.width = 75; },
    border: { display: false },
    grid: {
      color: "#EBEBEB",
      lineWidth: (c) => (isMajor(c.tick.value, 5) ? 2 : 1),
      tickLength: 4,
      tickColor: (c) => (isMajor(c.tick.value, 5) ? "#333333" : "rgba(0,0,0,0)"),
    },
    ticks: {
      stepSize: 2.5,
      includeBounds: false,
      autoSkip: false,
      padding: 9,
      color: "#4D4D4D",
      font: { size: 18.5 },
      callback: (v) => (isMajor(v, 5) ? String(v) : ""),
    },
    title: {
      display: true,
      text: "Temperature (°C)",
      color: "#000",
      font: { size: 24, lineHeight: 1 },
      padding: { top: 12, bottom: 0 },
    },
  },
});

// panel border, text labels and in-panel legend
const extras = {
  id: "extras",
  afterDatasetsDraw(chart, args, opts) {
    const { ctx, chartArea: a } = chart;
    const xs = chart.scales.x, ys = chart.scales.y;
    (opts.labels || []).forEach((l) => {
      ctx.save();
      ctx.font = "24px " + FONT;
      const w = ctx.measureText(l.text).width + 17, h = 32;
      const cx = xs.getPixelForValue(l.x), cy = ys.getPixelForValue(l.y);
      ctx.beginPath();
      ctx.roundRect(cx - w / 2, cy - h / 2, w, h, 5);
      ctx.fillStyle = "#fff";
      ctx.fill();
      ctx.strokeStyle = "#333";
      ctx.lineWidth = 1.3;
      ctx.stroke();
      ctx.fillStyle = "#000";
      ctx.textAlign = "center";
      ctx.textBaseline = "middle";
      ctx.fillText(l.text, cx, cy + 1);
      ctx.restore();
    });
    if (opts.legend) {
      const L = a.left + 80, T = a.top + 148;
      ctx.save();
      ctx.fillStyle = "#fff";
      ctx.fillRect(L, T, 305, 141);
      ctx.font = "18.5px " + FONT;
      ctx.textBaseline = "middle";
      years.forEach((y, i) => {
        const col = i < 4 ? 0 : 1, row = i < 4 ? i : i - 4;
        const kx = L + 2 + col * 160, ky = T + 29 + row * 31;
        ctx.strokeStyle = colors[i];
        ctx.lineWidth = LINE_W;
        ctx.beginPath();
        ctx.moveTo(kx, ky);
        ctx.lineTo(kx + 30, ky);
        ctx.stroke();
        ctx.fillStyle = "#000";
        ctx.fillText(y, kx + 47, ky + 1);
      });
      ctx.restore();
    }
  },
  afterDraw(chart) {
    const { ctx, chartArea: a } = chart;
    ctx.save();
    ctx.strokeStyle = "#333333";
    ctx.lineWidth = 1.3;
    ctx.strokeRect(a.left, a.top, a.right - a.left, a.bottom - a.top);
    ctx.restore();
  },
};

const baseOptions = (scales, extraOpts) => ({
  responsive: true,
  maintainAspectRatio: false,
  devicePixelRatio: 1,
  layout: { padding: { left: 0, right: 20, top: 49, bottom: 0 } },
  scales: scales,
  plugins: { legend: { display: false }, tooltip: { enabled: false }, extras: extraOpts },
});

new Chart(document.getElementById("chartA"), {
  type: "line",
  data: { datasets: [...seriesSets([tir1994, tir1995, tir1996, tir1998, tir2002, tir2003a, tir2003b], false), ...refSets()] },
  options: baseOptions(makeScales(10.24, 29.82, 38), { legend: true }),
  plugins: [extras],
});

new Chart(document.getElementById("chartB"), {
  type: "line",
  data: { datasets: [...seriesSets([ssn1994, ssn1995, ssn1996, ssn1998, ssn2002, ssn2003a, ssn2003b], true), ...refSets()] },
  options: baseOptions(makeScales(10.24, 29.82, 38), {
    labels: [
      { text: "Salmon&Trout Rearing&Migration", x: 30, y: 18 },
      { text: "Core Cold-Water Habitat", x: 90, y: 16 },
      { text: "Bull Trout Spawning&Juvenile Rearing", x: 30, y: 12 },
    ],
  }),
  plugins: [extras],
});

new Chart(document.getElementById("chartC"), {
  type: "line",
  data: {
    datasets: [
      ...seriesSets([diff1994, diff1995, diff1996, diff1998, diff2002, diff2003a, diff2003b], false),
      { data: [{ x: X_MIN, y: 0 }, { x: X_MAX, y: 0 }], borderColor: "#000", borderWidth: 1.6, pointRadius: 0, order: 0 },
    ],
  },
  options: baseOptions(makeScales(-8.79, 8.74, 55, "River km"), {
    labels: [
      { text: "SSN warmer", x: 15, y: 3.5 },
      { text: "SSN cooler", x: 15, y: -3.5 },
    ],
  }),
  plugins: [extras],
});
</script>
</body>
</html>
